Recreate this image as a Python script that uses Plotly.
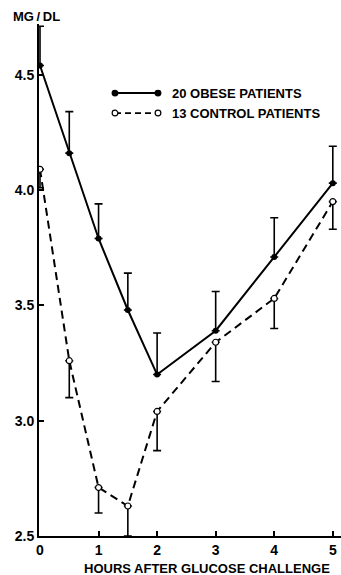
import plotly.graph_objects as go

# Hours after the glucose load
hours = [0, 0.5, 1, 1.5, 2, 3, 4, 5]

# Mean values (mg/dl) and standard errors for each group
obese_mean = [4.54, 4.16, 3.79, 3.48, 3.20, 3.39, 3.71, 4.03]
obese_se = [0.17, 0.18, 0.15, 0.16, 0.18, 0.17, 0.17, 0.16]

control_mean = [4.09, 3.26, 2.71, 2.63, 3.04, 3.34, 3.53, 3.95]
control_se = [0.08, 0.16, 0.11, 0.13, 0.17, 0.17, 0.13, 0.12]

y_ticks = [2.5, 3.0, 3.5, 4.0, 4.5]
x_ticks = [0, 1, 2, 3, 4, 5]

legend_labels = ["20 OBESE PATIENTS", "13 CONTROL PATIENTS"]

FONT = "Liberation Sans Narrow, Arial Narrow, Liberation Sans, Arial, sans-serif"

fig = go.Figure()

# Obese group: solid line, filled dots, upward error bars
fig.add_trace(go.Scatter(
    x=hours, y=obese_mean, mode="lines+markers",
    line=dict(color="black", width=2),
    marker=dict(symbol="circle", size=6, color="black"),
    error_y=dict(type="data", symmetric=False, array=obese_se,
                 arrayminus=[0] * len(obese_se),
                 color="black", thickness=1.6, width=4),
    showlegend=False,
))

# Control group: dashed line, open circles, downward error bars
fig.add_trace(go.Scatter(
    x=hours, y=control_mean, mode="lines+markers",
    line=dict(color="black", width=2, dash="8px,5px"),
    marker=dict(symbol="circle", size=6, color="white",
                line=dict(color="black", width=1.2)),
    error_y=dict(type="data", symmetric=False, array=[0] * len(control_se),
                 arrayminus=control_se,
                 color="black", thickness=1.6, width=4),
    showlegend=False,
))

# Hand-built legend: line samples with circles at both ends
lx0, lx1 = 0.2517, 0.394
rows = [(0.865, "solid", "black"), (0.826, "dash", "white")]
for (ly, dash, fill), label in zip(rows, legend_labels):
    fig.add_shape(type="line", xref="paper", yref="paper",
                  x0=lx0, x1=lx1, y0=ly, y1=ly,
                  line=dict(color="black", width=2 if dash == "solid" else 1.6,
                            dash="solid" if dash == "solid" else "6px,4px"))
    for cx in (lx0, lx1):
        fig.add_shape(type="circle", xref="paper", yref="paper",
                      x0=cx - 0.0095, x1=cx + 0.0095,
                      y0=ly - 0.0056, y1=ly + 0.0056,
                      fillcolor=fill, line=dict(color="black", width=1.2))
    fig.add_annotation(xref="paper", yref="paper", x=0.434, y=ly,
                       xanchor="left", yanchor="middle", showarrow=False,
                       text=f"<b>{label}</b>",
                       font=dict(family=FONT, size=13, color="black"))

# Unit label above the y axis
fig.add_annotation(xref="paper", yref="paper", x=0.076, y=1.0137,
                   xanchor="right", yanchor="middle", showarrow=False,
                   text="<b>MG\u2009/\u2009DL</b>",
                   font=dict(family=FONT, size=13, color="black"))

# X axis title
fig.add_annotation(xref="paper", yref="paper", x=0.556, y=-0.0625,
                   xanchor="center", yanchor="middle", showarrow=False,
                   text="<b>HOURS AFTER GLUCOSE CHALLENGE</b>",
                   font=dict(family=FONT, size=13, color="black"))

fig.update_xaxes(
    range=[-0.017, 5.14], tickvals=x_ticks,
    ticktext=[f"<b>{v}</b>" for v in x_ticks],
    showgrid=False, zeroline=False,
    showline=True, linecolor="black", linewidth=2,
    ticks="inside", ticklen=5, tickwidth=1.5, tickcolor="black",
    tickfont=dict(family=FONT, size=14, color="black"),
)
fig.update_yaxes(
    range=[2.5, 4.72], tickvals=y_ticks,
    ticktext=[f"<b>{v:.1f}</b>" for v in y_ticks],
    showgrid=False, zeroline=False,
    showline=True, linecolor="black", linewidth=2,
    ticks="inside", ticklen=5, tickwidth=1.5, tickcolor="black",
    tickfont=dict(family=FONT, size=14, color="black"),
)

fig.update_layout(
    width=341, height=575,
    margin=dict(l=39, r=0, t=24, b=39),
    paper_bgcolor="white", plot_bgcolor="white",
    font=dict(family=FONT, color="black"),
)

fig.write_html("out.html")
